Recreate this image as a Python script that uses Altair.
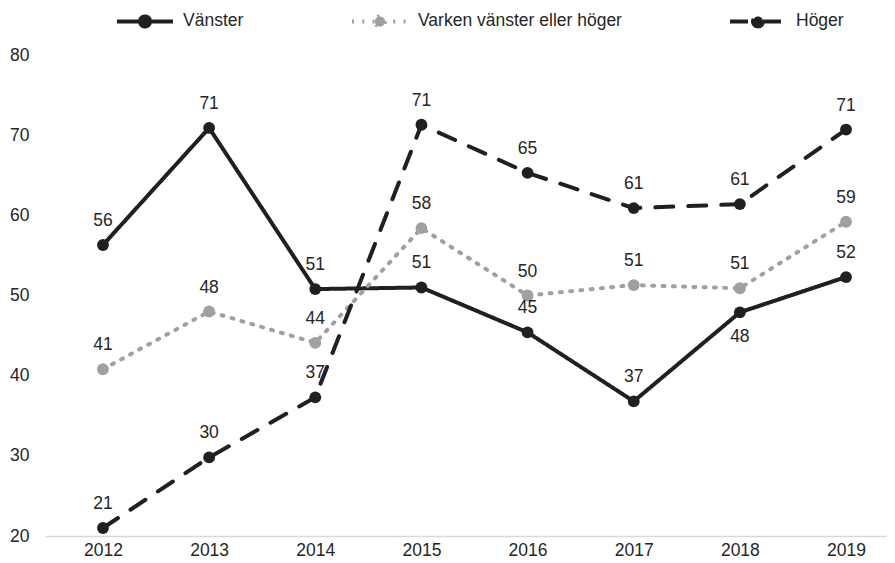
import altair as alt
import pandas as pd

years = [2012, 2013, 2014, 2015, 2016, 2017, 2018, 2019]
series_names = ["Vänster", "Varken vänster eller höger", "Höger"]
vanster = [56.3, 70.9, 50.8, 51.0, 45.4, 36.8, 47.9, 52.3]
varken = [40.8, 48.0, 44.1, 58.4, 50.0, 51.3, 50.9, 59.2]
hoger = [21.0, 29.8, 37.3, 71.3, 65.3, 60.9, 61.4, 70.7]
y_ticks = [20, 30, 40, 50, 60, 70, 80]
labels_below = [("Vänster", 2018)]

colors = ["#231f20", "#a0a0a0", "#231f20"]
dashes = [[1, 0], [2, 8.3], [18, 15]]
FONT = "Liberation Sans"
TXT = "#262626"
FS = 17.5

rows = []
for name, vals in zip(series_names, [vanster, varken, hoger]):
    for yr, v in zip(years, vals):
        rows.append({"serie": name, "year": yr, "value": v,
                     "below": (name, yr) in labels_below})
df = pd.DataFrame(rows)

x = alt.X("year:Q",
          scale=alt.Scale(domain=[2011.454, 2019.386], nice=False, zero=False),
          axis=alt.Axis(values=years, format="d", title=None, grid=False, ticks=False,
                        domainColor="#d9d9d9", domainWidth=1.5, labelPadding=5,
                        labelFontSize=FS, labelColor=TXT, labelFont=FONT))
y = alt.Y("value:Q",
          scale=alt.Scale(domain=[20, 80], nice=False, zero=False),
          axis=alt.Axis(values=y_ticks, title=None, grid=False, ticks=False, domain=False,
                        labelPadding=16, labelFontSize=FS, labelColor=TXT, labelFont=FONT))

sym_path = "M-1,0L1,0M0.18,0A0.18,0.18,0,1,1,-0.18,0A0.18,0.18,0,1,1,0.18,0Z"
leg = alt.Legend(title=None, orient="none", legendX=70, legendY=-64, direction="horizontal",
                 symbolType=sym_path, symbolSize=3136, symbolStrokeWidth=4,
                 labelFontSize=FS, labelFont=FONT, labelColor=TXT, columnPadding=100,
                 labelOffset=8, labelLimit=400)

base = alt.Chart(df)
lines = base.mark_line(strokeWidth=4, strokeCap="round").encode(
    x=x, y=y,
    stroke=alt.Stroke("serie:N", scale=alt.Scale(domain=series_names, range=colors), legend=leg),
    strokeDash=alt.StrokeDash("serie:N", scale=alt.Scale(domain=series_names, range=dashes), legend=leg),
    detail="serie:N",
)
points = base.mark_circle(size=140, opacity=1).encode(
    x=x, y=y,
    fill=alt.Fill("serie:N", scale=alt.Scale(domain=series_names, range=colors), legend=leg),
)
text_above = base.transform_filter("!datum.below").mark_text(
    dy=-24, fontSize=FS, font=FONT, color=TXT, baseline="middle").encode(
    x=x, y=y, text=alt.Text("value:Q", format=".0f"))
text_below = base.transform_filter("datum.below").mark_text(
    dy=25, fontSize=FS, font=FONT, color=TXT, baseline="middle").encode(
    x=x, y=y, text=alt.Text("value:Q", format=".0f"))

chart = alt.layer(lines, points, text_above, text_below).properties(
    width=842, height=481,
    autosize=alt.AutoSizeParams(type="none"),
    padding={"left": 37, "top": 47, "right": 0, "bottom": 24},
).configure_view(stroke=None).resolve_scale(stroke="shared", fill="shared", strokeDash="shared")

chart.save("out.html", embed_options={"renderer": "svg", "actions": False})
